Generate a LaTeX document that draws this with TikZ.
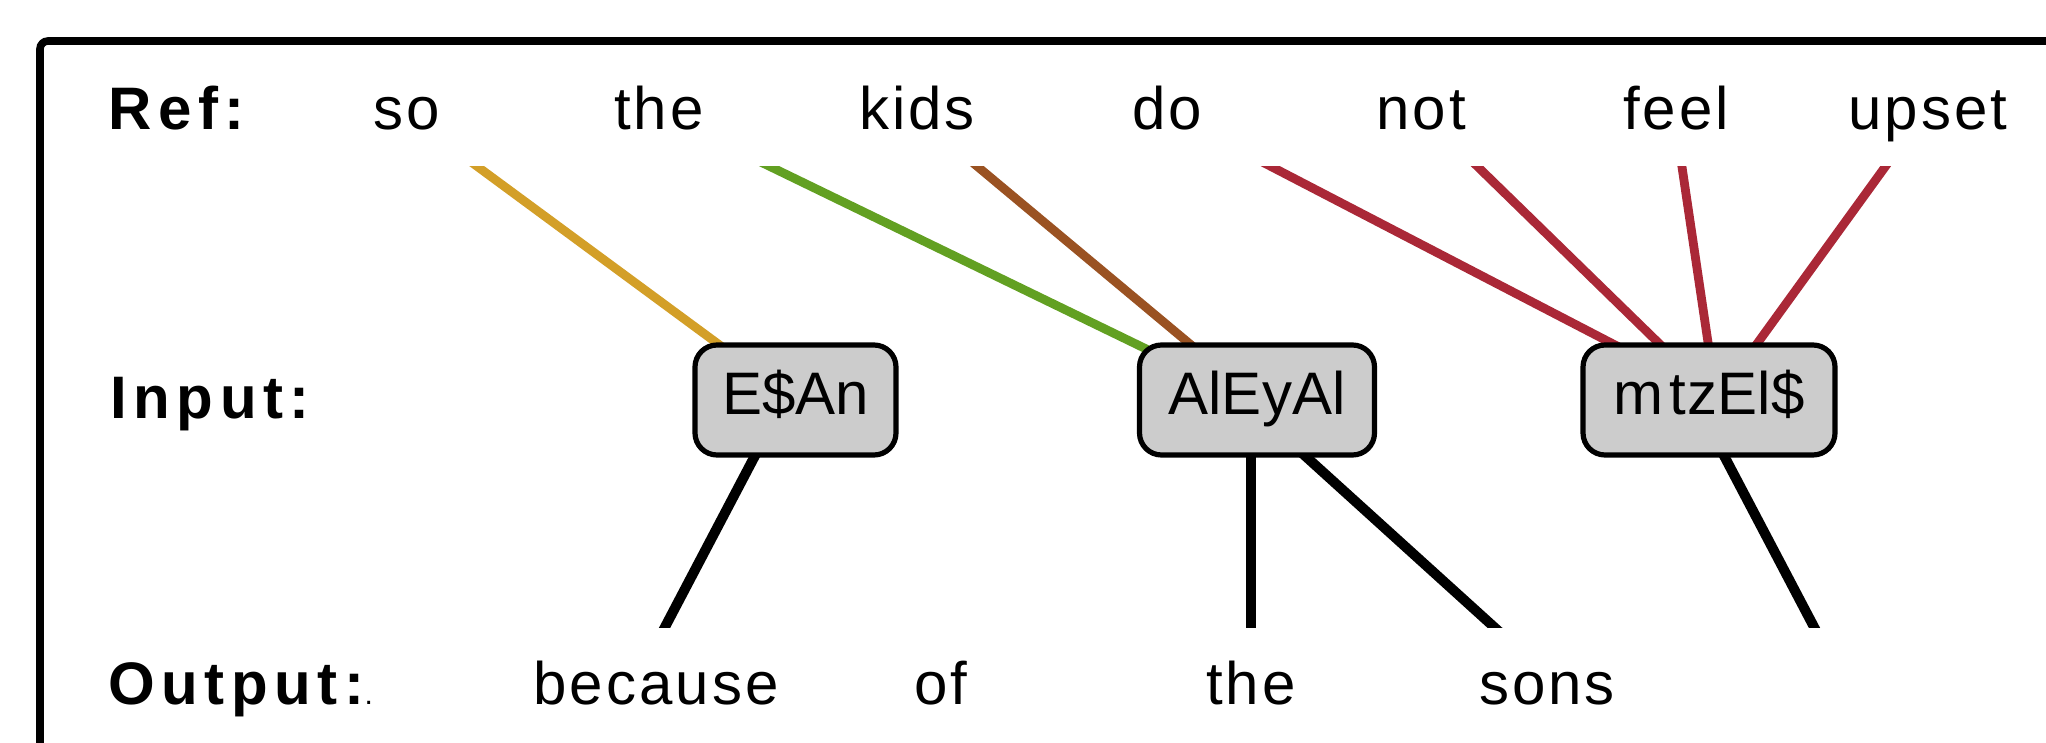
\documentclass[tikz,border=0pt]{standalone}
\usepackage{fontspec}
\setmainfont{Liberation Sans}
\newfontfamily\labelfont[LetterSpace=11]{Liberation Sans}
\newfontfamily\wordfont[LetterSpace=5]{Liberation Sans}
\usetikzlibrary{calc}
\pgfdeclarelayer{links}
\pgfsetlayers{links,main}
\definecolor{boxgray}{HTML}{CCCCCC}
\definecolor{linkgold}{HTML}{D39F28}
\definecolor{linkgreen}{HTML}{62A022}
\definecolor{linkbrown}{HTML}{9A5222}
\definecolor{linkred}{HTML}{AA2837}
\tikzset{
  rowlabel/.style={font=\labelfont\bfseries\fontsize{30}{36}\selectfont, inner sep=0pt, anchor=base west},
  word/.style={font=\wordfont\fontsize{30}{36}\selectfont, inner sep=0pt, anchor=base},
  token/.style={draw, line width=2.6pt, fill=boxgray, rounded corners=11pt,
    minimum height=55pt, inner sep=0pt, font=\fontsize{30}{36}\selectfont,
    text height=21.5pt, text depth=6.5pt},
  align link/.style={line width=4.4pt, draw=#1},
  out link/.style={line width=5pt, draw=black},
}
\begin{document}
\begin{tikzpicture}[x=0.5pt,y=-0.5pt]
\useasboundingbox (0,0) rectangle (2046,743);
\begin{scope}
\clip (0,0) rectangle (2046,743);

% outer frame, running off the right and bottom edges
\draw[line width=3.8pt, rounded corners=4pt] (40,800) -- (40,41) -- (2120,41);

% row labels
\node[rowlabel] (lref) at (108,130) {Ref:};
\node[rowlabel] (lin)  at (110,418) {Input:};
\node[rowlabel] (lout) at (108,704) {Output:{\mdseries\fontsize{15}{18}\selectfont.}};

% reference words
\node[word] (r-so)    at (407,130)  {so};
\node[word] (r-the)   at (659,130)  {the};
\node[word] (r-kids)  at (917,130)  {kids};
\node[word] (r-do)    at (1167,130) {do};
\node[word] (r-not)   at (1421,130) {not};
\node[word] (r-feel)  at (1676,130) {feel};
\node[word] (r-upset) at (1928,130) {upset};

% input tokens
\node[token, minimum width=100.5pt] (t1) at (795.5,400) {E\$An};
\node[token, minimum width=117.5pt] (t2) at (1257,400)  {AlEyAl};
\node[token, minimum width=126pt]   (t3) at (1709,400)  {m\kern3pt t\kern1pt zEl\$};

% output words
\node[word] (o-because) at (656,704)  {because};
\node[word] (o-of)      at (941,704)  {of};
\node[word] (o-the)     at (1251,704) {the};
\node[word] (o-sons)    at (1547,704) {sons};

% link ends below the reference words
\coordinate (so-foot)    at (478,167);
\coordinate (the-foot)   at (771,167);
\coordinate (kids-foot)  at (978,167);
\coordinate (do-foot)    at (1272,167);
\coordinate (not-foot)   at (1478,167);
\coordinate (feel-foot)  at (1682,167);
\coordinate (upset-foot) at (1885,167);
% link ends on the tokens
\coordinate (so-in)    at ($(t1.north)+(-79.5,0)$);
\coordinate (the-in)   at ($(t2.north)+(-112,6)$);
\coordinate (kids-in)  at ($(t2.north)+(-69,0)$);
\coordinate (do-in)    at ($(t3.north)+(-99,0)$);
\coordinate (not-in)   at ($(t3.north)+(-51,0)$);
\coordinate (feel-in)  at ($(t3.north)+(-1,0)$);
\coordinate (upset-in) at ($(t3.north)+(49,0)$);
% output link ends
\coordinate (t1-out)  at ($(t1.south)+(-41.5,0)$);
\coordinate (t2-outa) at ($(t2.south)+(-6,0)$);
\coordinate (t2-outb) at ($(t2.south)+(50,0)$);
\coordinate (t3-out)  at ($(t3.south)+(16,0)$);
\coordinate (because-head) at (665,627);
\coordinate (the-head)     at (1251,627);
\coordinate (sons-head)    at (1494,627);
\coordinate (blank-head)   at (1814,627);

\begin{pgfonlayer}{links}
  % alignment links, cut flat under the reference row
  \begin{scope}
    \clip (0,167) rectangle (2046,460);
    \foreach \w/\c in {so/linkgold, the/linkgreen, kids/linkbrown,
                       do/linkred, not/linkred, feel/linkred, upset/linkred}
      \draw[align link=\c] ($(\w-in)!1.1!(\w-foot)$) -- ($(\w-foot)!1.06!(\w-in)$);
  \end{scope}
  % output links, cut flat above the output row
  \begin{scope}
    \clip (0,440) rectangle (2046,627);
    \foreach \a/\b in {t1-out/because-head, t2-outa/the-head,
                       t2-outb/sons-head, t3-out/blank-head}
      \draw[out link] ($(\b)!1.1!(\a)$) -- ($(\a)!1.1!(\b)$);
  \end{scope}
\end{pgfonlayer}
\end{scope}
\end{tikzpicture}
\end{document}
